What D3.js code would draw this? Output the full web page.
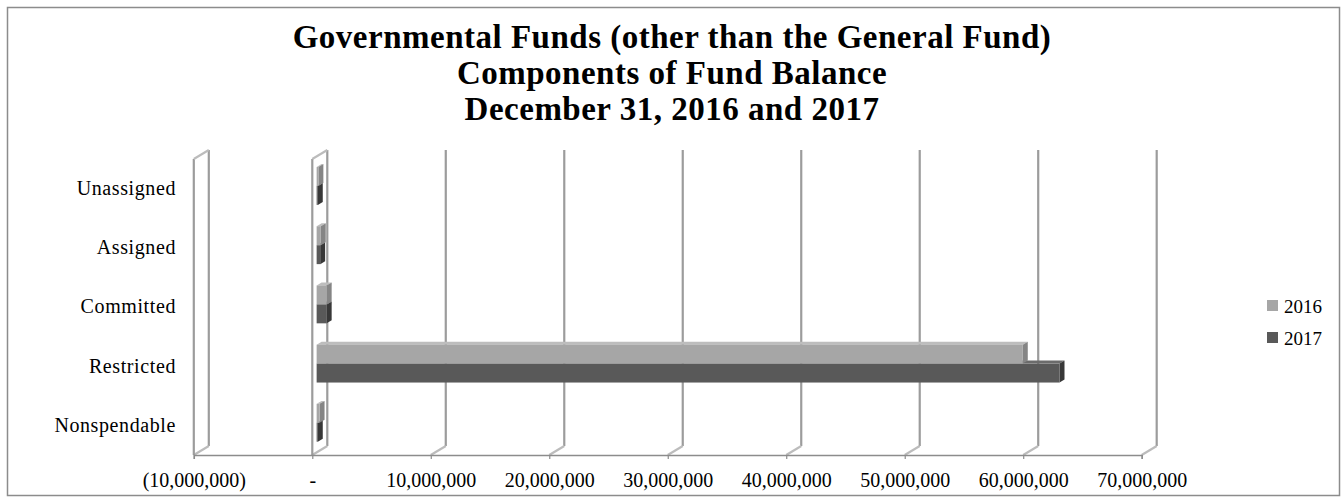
<!DOCTYPE html>
<html>
<head>
<meta charset="utf-8">
<script src="https://cdn.jsdelivr.net/npm/d3@7"></script>
<style>
  html, body { margin: 0; padding: 0; background: #fff; }
  svg { display: block; }
  text { font-family: "Liberation Serif", "Times New Roman", serif; fill: #000; }
</style>
</head>
<body>
<svg id="chart" width="1344" height="503"></svg>
<script>
// Fund balance components (bottom to top, as listed on the axis)
const categories = ["Nonspendable", "Restricted", "Committed", "Assigned", "Unassigned"];
const seriesNames = ["2016", "2017"];
const values2016 = [250000, 59600000, 850000, 350000, 150000];
const values2017 = [100000, 62700000, 850000, 300000, 100000];
const xTickValues = [-10000000, 0, 10000000, 20000000, 30000000, 40000000, 50000000, 60000000, 70000000];
const titleLines = [
  "Governmental Funds (other than the General Fund)",
  "Components of Fund Balance",
  "December 31, 2016 and 2017"
];

const seriesValues = { "2016": values2016, "2017": values2017 };
const seriesColor = {
  "2016": { front: "#a6a6a6", top: "#bdbdbd", side: "#858585" },
  "2017": { front: "#595959", top: "#6b6b6b", side: "#383838" }
};

const svg = d3.select("#chart");

// outer frame
svg.append("rect")
  .attr("x", 7.5).attr("y", 7.5).attr("width", 1332).attr("height", 488)
  .attr("fill", "#fff").attr("stroke", "#8c8c8c").attr("stroke-width", 1.5);

// title
svg.append("g").selectAll("text")
  .data(titleLines).join("text")
  .attr("x", 672).attr("y", (d, i) => 48 + i * 36)
  .attr("text-anchor", "middle")
  .attr("font-size", 33).attr("font-weight", "bold").attr("letter-spacing", 0.5)
  .text(d => d);

// oblique 3D projection: depth pushes right and up
const depthX = 15, depthY = -9;
const frontTop = 159, frontBottom = 455;

const x = d3.scaleLinear().domain([-10000000, 70000000]).range([193.8, 1141.7]);
const y0 = d3.scaleBand()
  .domain(categories.slice().reverse())
  .range([frontTop, frontBottom])
  .paddingInner(0.36).paddingOuter(0.18);
const y1 = d3.scaleBand().domain(seriesNames).range([0, y0.bandwidth()]);

const grid = svg.append("g").attr("fill", "none").attr("stroke", "#9c9c9c").attr("stroke-width", 2.2);

xTickValues.forEach(v => {
  const xf = x(v), xb = x(v) + depthX;
  // back wall line
  grid.append("line").attr("x1", xb).attr("x2", xb)
    .attr("y1", frontTop + depthY).attr("y2", frontBottom + depthY);
  // floor line
  grid.append("line").attr("x1", xf).attr("x2", xb)
    .attr("y1", frontBottom).attr("y2", frontBottom + depthY)
    .attr("stroke", "#bcbcbc");
  if (v <= 0) {
    // wall slab at the axis minimum and at zero
    grid.append("line").attr("x1", xf).attr("x2", xf)
      .attr("y1", frontTop).attr("y2", frontBottom);
    grid.append("line").attr("x1", xf).attr("x2", xb)
      .attr("y1", frontTop).attr("y2", frontTop + depthY)
      .attr("stroke", "#bcbcbc");
  }
});

// axis line and ticks
const axisG = svg.append("g")
  .attr("transform", `translate(0,${frontBottom})`)
  .call(d3.axisBottom(x).tickValues(xTickValues).tickSize(4).tickPadding(14)
    .tickFormat(v => v === 0 ? "-" : (v < 0 ? "(" + d3.format(",")(-v) + ")" : d3.format(",")(v))));
axisG.select(".domain").attr("stroke", "#8c8c8c").attr("stroke-width", 1.5);
axisG.selectAll(".tick line").attr("stroke", "#8c8c8c").attr("stroke-width", 1.2);
axisG.selectAll(".tick text")
  .attr("font-family", "Liberation Serif, Times New Roman, serif")
  .attr("font-size", 20).attr("fill", "#000");

// category labels
const catAxis = svg.append("g")
  .attr("transform", "translate(190,0)")
  .call(d3.axisLeft(y0).tickSize(0).tickPadding(14));
catAxis.select(".domain").remove();
catAxis.selectAll(".tick text")
  .attr("font-family", "Liberation Serif, Times New Roman, serif")
  .attr("font-size", 20).attr("letter-spacing", 0.6).attr("fill", "#000");

// 3D bars: front face at depth fraction fF, back face at fB
const fF = 0.29, fB = 0.62;
const bars = [];
categories.forEach((c, ci) => {
  seriesNames.forEach(s => bars.push({ cat: c, series: s, value: seriesValues[s][ci] }));
});
// paint lower bars first so bars above cover their top faces
bars.sort((a, b) => (y0(b.cat) + y1(b.series)) - (y0(a.cat) + y1(a.series)));

const barG = svg.append("g");
bars.forEach(d => {
  const xa = x(0), xv = x(d.value);
  const yt = y0(d.cat) + y1(d.series), yb = yt + y1.bandwidth();
  const fx = fF * depthX, fy = fF * depthY, bx = fB * depthX, by = fB * depthY;
  const col = seriesColor[d.series];
  const g = barG.append("g");
  g.append("polygon")
    .attr("points", [[xa + fx, yt + fy], [xv + fx, yt + fy], [xv + bx, yt + by], [xa + bx, yt + by]].join(" "))
    .attr("fill", col.top);
  g.append("polygon")
    .attr("points", [[xv + fx, yt + fy], [xv + bx, yt + by], [xv + bx, yb + by], [xv + fx, yb + fy]].join(" "))
    .attr("fill", col.side);
  g.append("rect")
    .attr("x", xa + fx).attr("y", yt + fy)
    .attr("width", Math.max(0, xv - xa)).attr("height", yb - yt)
    .attr("fill", col.front);
});

// legend
const legend = svg.append("g").attr("transform", "translate(1267,0)");
const ly = d3.scalePoint().domain(seriesNames).range([306, 338]);
seriesNames.forEach(s => {
  legend.append("rect").attr("x", 0).attr("y", ly(s) - 6).attr("width", 11).attr("height", 11)
    .attr("fill", seriesColor[s].front);
  legend.append("text").attr("x", 17).attr("y", ly(s)).attr("dy", "0.35em")
    .attr("font-size", 19).text(s);
});
</script>
</body>
</html>
